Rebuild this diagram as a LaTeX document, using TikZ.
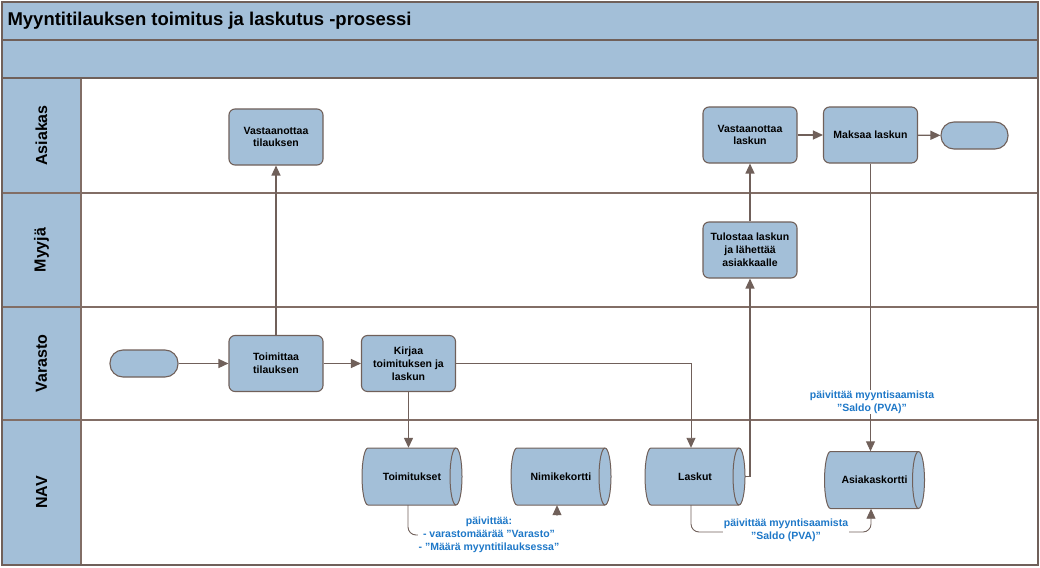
\documentclass[tikz,border=0pt]{standalone}
\usepackage{fontspec}
\setmainfont{Liberation Sans}
\usetikzlibrary{arrows.meta}
\definecolor{boxfill}{RGB}{163,191,216}
\definecolor{edge}{RGB}{112,96,90}
\definecolor{laneline}{RGB}{130,110,102}
\definecolor{lbl}{RGB}{30,120,200}
\newcommand\cylshape[2]{%
  \draw[cylfill] (#1-44,#2+28.5) -- (#1+44,#2+28.5)
    arc[start angle=90,end angle=-90,x radius=6,y radius=28.5]
    -- (#1-44,#2-28.5)
    arc[start angle=270,end angle=90,x radius=6,y radius=28.5] -- cycle;
  \draw[cylfill,fill=none] (#1+44,#2+28.5)
    arc[start angle=90,end angle=270,x radius=6,y radius=28.5];}
\begin{document}
\begin{tikzpicture}[x=1pt,y=1pt,
  frame/.style={draw=edge,line width=1.6pt},
  laneln/.style={draw=laneline,line width=1.3pt},
  proc/.style={draw=edge,fill=boxfill,line width=1.1pt,rounded corners=6pt,
    minimum width=94pt,minimum height=56pt,align=center,inner sep=2pt,
    font=\fontsize{10.5}{12.8}\selectfont\bfseries},
  term/.style={draw=edge,fill=boxfill,line width=1.1pt,rounded corners=13pt,
    minimum width=68pt,minimum height=27pt},
  cyltext/.style={minimum width=100pt,minimum height=57pt,inner sep=0pt,
    font=\fontsize{10.5}{12.8}\selectfont\bfseries},
  cylfill/.style={draw=edge,fill=boxfill,line width=1pt},
  arr/.style={draw=edge,line width=1.3pt,-{Triangle[length=10pt,width=9pt]}},
  thinarr/.style={draw=edge,line width=0.9pt,-{Triangle[length=10pt,width=9pt]}},
  note/.style={fill=white,text=lbl,align=center,inner sep=1pt,
    font=\fontsize{10.5}{13}\selectfont\bfseries},
  lanelbl/.style={rotate=90,font=\fontsize{16}{19}\selectfont\bfseries}]
\useasboundingbox (0,0) rectangle (1040,-567);
% frame and lanes
\fill[boxfill] (2,-2) rectangle (1038,-78);
\fill[boxfill] (2,-78) rectangle (81,-565);
\draw[laneln] (2,-193) -- (1038,-193);
\draw[laneln] (2,-307) -- (1038,-307);
\draw[laneln] (2,-420) -- (1038,-420);
\draw[laneln] (81,-78) -- (81,-565);
\draw[frame] (2,-40) -- (1038,-40);
\draw[frame] (2,-78) -- (1038,-78);
\draw[frame] (2,-2) rectangle (1038,-565);
\node[anchor=west,font=\fontsize{18.5}{22}\selectfont\bfseries] (title) at (4,-21) {Myyntitilauksen toimitus ja laskutus -prosessi};
\node[lanelbl] (lA) at (41.5,-135.5) {Asiakas};
\node[lanelbl] (lM) at (41.5,-250) {Myyjä};
\node[lanelbl] (lV) at (41.5,-363.5) {Varasto};
\node[lanelbl] (lN) at (41.5,-492.5) {NAV};
% cylinders
\cylshape{412}{-476.5}
\cylshape{561}{-476.5}
\cylshape{695}{-476.5}
\cylshape{874.5}{-480}
\node[cyltext] (toims) at (412,-476.5) {Toimitukset};
\node[cyltext] (nimi) at (561,-476.5) {Nimikekortti};
\node[cyltext] (lask) at (695,-476.5) {Laskut};
\node[cyltext] (asi) at (874.5,-480) {Asiakaskortti};
% process nodes
\node[term] (start) at (144,-363.5) {};
\node[proc] (toim) at (276,-363.5) {Toimittaa\\tilauksen};
\node[proc] (kir) at (408.5,-363.5) {Kirjaa\\toimituksen ja\\laskun};
\node[proc] (vt) at (276,-137) {Vastaanottaa\\tilauksen};
\node[proc] (tul) at (750,-250) {Tulostaa laskun\\ja lähettää\\asiakkaalle};
\node[proc] (vl) at (750,-135) {Vastaanottaa\\laskun};
\node[proc] (mak) at (870.5,-135) {Maksaa laskun};
\node[term,minimum width=67pt] (end) at (974.5,-135.5) {};
% connectors
\draw[arr] (start) -- (toim);
\draw[arr] (toim) -- (kir);
\draw[arr] (toim) -- (vt);
\draw[thinarr] (kir.east) -| ([xshift=-4pt]lask.north);
\draw[arr] (kir.south) -- (kir.south |- toims.north);
\draw[arr] (lask.east) -| (tul.south);
\draw[arr] (tul) -- (vl);
\draw[arr] (vl) -- (mak);
\draw[arr] (mak) -- (end);
\draw[thinarr] (mak.south) -- (mak.south |- asi.north);
\draw[thinarr,rounded corners=8pt] ([xshift=-4pt]toims.south) |- (557,-535) -- ([xshift=-4pt]nimi.south);
\draw[thinarr,rounded corners=8pt] ([xshift=-4pt]lask.south) |- (871,-532) -- ([xshift=-3.5pt]asi.south);
% labels
\node[note] (n1) at (872,-402) {päivittää myyntisaamista\\”Saldo (PVA)”};
\node[note] (n2) at (489,-535) {päivittää:\\- varastomäärää ”Varasto”\\- ”Määrä myyntitilauksessa”};
\node[note] (n3) at (786,-530) {päivittää myyntisaamista\\”Saldo (PVA)”};
\end{tikzpicture}
\end{document}
